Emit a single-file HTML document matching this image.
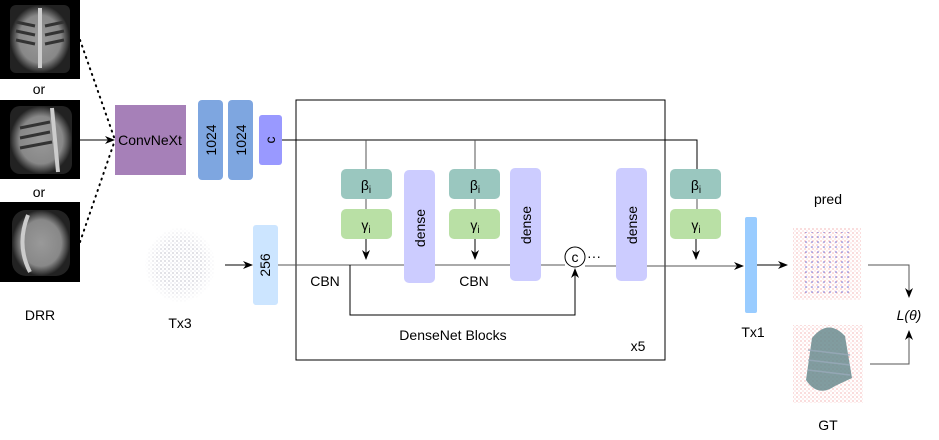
<!DOCTYPE html>
<html><head><meta charset="utf-8"><style>
html,body{margin:0;padding:0;background:#fff}
svg{display:block}
text{font-family:"Liberation Sans",sans-serif;font-size:14px;fill:#000}
</style></head><body>
<svg width="939" height="440" viewBox="0 0 939 440" xmlns="http://www.w3.org/2000/svg">
<defs>
<marker id="ar" markerWidth="10" markerHeight="10" refX="9" refY="5" orient="auto" markerUnits="userSpaceOnUse">
<path d="M0,1 L10,5 L0,9 L3,5 Z" fill="#000"/></marker>
<radialGradient id="xr" cx="50%" cy="50%" r="50%"><stop offset="0" stop-color="#999"/><stop offset="0.7" stop-color="#888"/><stop offset="1" stop-color="#222"/></radialGradient>
<pattern id="pb" width="4" height="4" patternUnits="userSpaceOnUse"><circle cx="1" cy="1" r="0.6" fill="#99a"/><circle cx="3" cy="3" r="0.5" fill="#bbc"/></pattern>
<pattern id="pr" width="4" height="4" patternUnits="userSpaceOnUse"><circle cx="1" cy="1" r="0.6" fill="#e88"/><circle cx="3" cy="3" r="0.5" fill="#f3a0a0"/></pattern>
<pattern id="pbl" width="6" height="5" patternUnits="userSpaceOnUse"><circle cx="2" cy="2" r="0.8" fill="#33c"/></pattern>
<radialGradient id="fade" cx="50%" cy="50%" r="50%"><stop offset="0.6" stop-color="#fff" stop-opacity="0"/><stop offset="1" stop-color="#fff" stop-opacity="1"/></radialGradient>
</defs>
<!-- xrays -->
<rect x="0" y="0" width="80" height="79" fill="#000"/><rect x="10" y="5" width="60" height="68" rx="6" fill="url(#xr)"/>
<g stroke="#333" stroke-width="3"><line x1="16" y1="22" x2="35" y2="26"/><line x1="45" y1="26" x2="64" y2="22"/><line x1="16" y1="31" x2="35" y2="35"/><line x1="45" y1="35" x2="64" y2="31"/><line x1="16" y1="40" x2="35" y2="44"/><line x1="45" y1="44" x2="64" y2="40"/></g>
<line x1="40" y1="8" x2="40" y2="68" stroke="#ccc" stroke-width="4"/>
<rect x="0" y="100" width="80" height="79" fill="#000"/><rect x="10" y="106" width="62" height="68" rx="10" fill="url(#xr)"/>
<line x1="52" y1="108" x2="58" y2="172" stroke="#ccc" stroke-width="4"/>
<g stroke="#333" stroke-width="3"><line x1="20" y1="128" x2="50" y2="122"/><line x1="20" y1="138" x2="50" y2="132"/><line x1="20" y1="148" x2="52" y2="142"/></g>
<rect x="0" y="202" width="80" height="80" fill="#000"/><rect x="12" y="210" width="58" height="66" rx="14" fill="url(#xr)"/>
<path d="M28,215 Q16,245 30,272" stroke="#ccc" stroke-width="4" fill="none"/>
<text x="39" y="94" text-anchor="middle">or</text>
<text x="39" y="197" text-anchor="middle">or</text>
<text x="40" y="320" text-anchor="middle">DRR</text>
<line x1="80" y1="40" x2="115" y2="140" stroke="#000" stroke-width="2" stroke-dasharray="1,5" stroke-linecap="round"/>
<line x1="80" y1="242" x2="115" y2="140" stroke="#000" stroke-width="2" stroke-dasharray="1,5" stroke-linecap="round"/>
<line x1="80" y1="140" x2="114" y2="140" stroke="#000" marker-end="url(#ar)"/>
<rect x="115" y="105" width="71" height="70" fill="#a680b8"/>
<text x="150" y="145" text-anchor="middle" font-size="13">ConvNeXt</text>
<rect x="198" y="100" width="25" height="80" rx="4" fill="#7ea6e0"/>
<rect x="228" y="100" width="25" height="80" rx="4" fill="#7ea6e0"/>
<text transform="translate(216,140) rotate(-90)" text-anchor="middle">1024</text>
<text transform="translate(246,140) rotate(-90)" text-anchor="middle">1024</text>
<rect x="259" y="115" width="23" height="50" rx="3" fill="#9999ff"/>
<text transform="translate(275,140) rotate(-90)" text-anchor="middle">c</text>
<rect x="296" y="100" width="369" height="260" fill="none" stroke="#000"/>
<polyline points="282,140 697,140 697,169" fill="none" stroke="#000"/>
<line x1="366" y1="140" x2="366" y2="169" stroke="#555"/>
<line x1="475" y1="140" x2="475" y2="169" stroke="#555"/>
<ellipse cx="180" cy="265" rx="35" ry="37" fill="url(#pb)"/>
<ellipse cx="180" cy="265" rx="36" ry="38" fill="url(#fade)"/>
<text x="180" y="328" text-anchor="middle">Tx3</text>
<line x1="225" y1="265" x2="252" y2="265" stroke="#000" marker-end="url(#ar)"/>
<rect x="253" y="225" width="25" height="80" rx="3" fill="#cce5ff"/>
<text transform="translate(270,265) rotate(-90)" text-anchor="middle">256</text>
<line x1="278" y1="265" x2="565" y2="265" stroke="#555"/>
<line x1="585" y1="266" x2="743" y2="266" stroke="#555" marker-end="url(#ar)"/>
<g>
<line x1="366" y1="199" x2="366" y2="209" stroke="#555"/>
<line x1="475" y1="199" x2="475" y2="209" stroke="#555"/>
<line x1="697" y1="199" x2="697" y2="209" stroke="#555"/>
<rect x="341" y="169" width="51" height="30" rx="5" fill="#9ac7bf"/>
<rect x="341" y="209" width="51" height="30" rx="5" fill="#b9e0a5"/>
<rect x="449" y="169" width="51" height="30" rx="5" fill="#9ac7bf"/>
<rect x="449" y="209" width="51" height="30" rx="5" fill="#b9e0a5"/>
<rect x="670" y="169" width="51" height="30" rx="5" fill="#9ac7bf"/>
<rect x="670" y="209" width="51" height="30" rx="5" fill="#b9e0a5"/>
<text x="366" y="190" text-anchor="middle">β<tspan font-size="10" dy="3">i</tspan></text>
<text x="366" y="230" text-anchor="middle">γ<tspan font-size="10" dy="3">i</tspan></text>
<text x="475" y="190" text-anchor="middle">β<tspan font-size="10" dy="3">i</tspan></text>
<text x="475" y="230" text-anchor="middle">γ<tspan font-size="10" dy="3">i</tspan></text>
<text x="696" y="190" text-anchor="middle">β<tspan font-size="10" dy="3">i</tspan></text>
<text x="696" y="230" text-anchor="middle">γ<tspan font-size="10" dy="3">i</tspan></text>
<line x1="366" y1="239" x2="366" y2="259" stroke="#000" marker-end="url(#ar)"/>
<line x1="475" y1="239" x2="475" y2="259" stroke="#000" marker-end="url(#ar)"/>
<line x1="696" y1="239" x2="696" y2="259" stroke="#000" marker-end="url(#ar)"/>
</g>
<rect x="404" y="170" width="31" height="113" rx="5" fill="#ccccff"/>
<rect x="510" y="168" width="31" height="113" rx="5" fill="#ccccff"/>
<rect x="616" y="168" width="31" height="113" rx="5" fill="#ccccff"/>
<text transform="translate(425,228) rotate(-90)" text-anchor="middle">dense</text>
<text transform="translate(531,225) rotate(-90)" text-anchor="middle">dense</text>
<text transform="translate(637,225) rotate(-90)" text-anchor="middle">dense</text>
<polyline points="350,265 350,315 575,315 575,269" fill="none" stroke="#000" marker-end="url(#ar)"/>
<circle cx="575" cy="257" r="10" fill="#fff" stroke="#000"/>
<text x="575" y="262" text-anchor="middle" font-size="12">c</text>
<text x="587" y="261" font-size="12">···</text>
<text x="325" y="286" text-anchor="middle">CBN</text>
<text x="474" y="286" text-anchor="middle">CBN</text>
<text x="453" y="340" text-anchor="middle">DenseNet Blocks</text>
<text x="638" y="351" text-anchor="middle">x5</text>
<rect x="745" y="217" width="12" height="96" rx="2" fill="#99ccff"/>
<text x="753" y="337" text-anchor="middle">Tx1</text>
<line x1="757" y1="265" x2="787" y2="265" stroke="#000" marker-end="url(#ar)"/>
<text x="828" y="204" text-anchor="middle">pred</text>
<rect x="793" y="228" width="68" height="72" fill="url(#pr)"/>
<rect x="803" y="232" width="50" height="62" fill="url(#pbl)" opacity="0.7"/>
<rect x="793" y="325" width="70" height="78" fill="url(#pr)"/>
<path d="M812,338 Q828,318 845,336 L852,378 L835,386 Q818,398 806,380 Z" fill="#6b8c8f" opacity="0.85"/>
<g stroke="#9ab" stroke-width="1.5" opacity="0.8"><line x1="808" y1="350" x2="850" y2="355"/><line x1="808" y1="360" x2="850" y2="365"/><line x1="808" y1="370" x2="850" y2="375"/></g>
<text x="828" y="430" text-anchor="middle">GT</text>
<polyline points="868,265 909,265 909,297" fill="none" stroke="#555" marker-end="url(#ar)"/>
<polyline points="870,364 909,364 909,331" fill="none" stroke="#555" marker-end="url(#ar)"/>
<text x="909" y="320" text-anchor="middle" font-style="italic">L(θ)</text>
</svg>
</body></html>
